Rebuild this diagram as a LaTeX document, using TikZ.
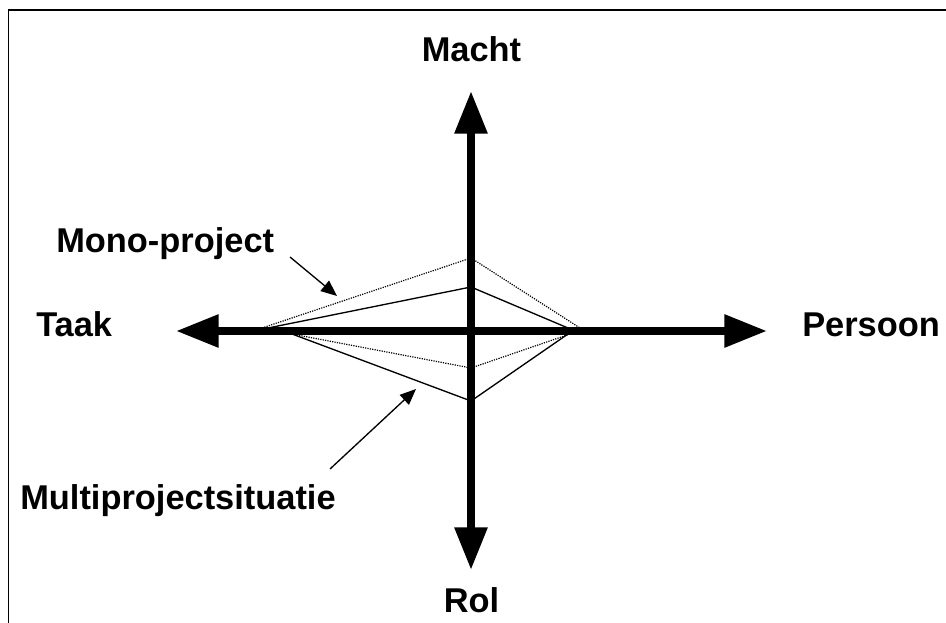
\documentclass[tikz,border=0pt]{standalone}
\usepackage{fontspec}
\setmainfont{Liberation Sans}
\usetikzlibrary{arrows.meta}
\begin{document}
\begin{tikzpicture}[x=0.75pt,y=-0.75pt,
  lbl/.style={inner sep=0pt,font=\fontsize{25.8}{30}\selectfont\bfseries},
  axis/.style={line width=6pt,-{Triangle[length=32pt,width=23.5pt]}},
  pointer/.style={line width=1pt,-{Triangle[length=12pt,width=10pt]}},
  mono/.style={line width=0.9pt,dash pattern=on 0.9pt off 0.9pt},
  multi/.style={line width=1pt}]
\useasboundingbox (0,0) rectangle (946,623);

% open frame
\draw[line width=1.2pt] (8.5,630) -- (8.5,10) -- (950,10);

% axis points
\coordinate (O)   at (471,331);
\coordinate (axL) at (176,331);
\coordinate (axR) at (767,331);
\coordinate (axT) at (471,91);
\coordinate (axB) at (471,570);

% mono-project outline (dotted)
\coordinate (dL)  at (262,328);
\coordinate (dT)  at (471,258);
\coordinate (dR)  at (580,328);
\coordinate (dBr) at (570,334);
\coordinate (dB)  at (471,368);
\coordinate (dBl) at (292,334);
\draw[mono] (dL) -- (dT) -- (dR);
\draw[mono] (dBl) -- (dB) -- (dBr);

% multiproject outline (solid)
\coordinate (sL)  at (268,328);
\coordinate (sT)  at (471,287);
\coordinate (sR)  at (568,328);
\coordinate (sBr) at (568,334);
\coordinate (sB)  at (471,401);
\coordinate (sBl) at (292,334);
\draw[multi] (sL) -- (sT) -- (sR);
\draw[multi] (sBl) -- (sB) -- (sBr);

% axes
\draw[axis] (O) -- (axT);
\draw[axis] (O) -- (axB);
\draw[axis] (O) -- (axL);
\draw[axis] (O) -- (axR);

% axis labels
\node[lbl,anchor=base] (macht) at (471.5,62) {Macht};
\node[lbl,anchor=base] (rol) at (471.5,612) {Rol};
\node[lbl,anchor=base west] (taak) at (36,337) {Taak};
\node[lbl,anchor=base west] (persoon) at (802,337) {Persoon};

% situation labels with pointers
\node[lbl,anchor=base west] (monolbl) at (56,253) {Mono-project};
\node[lbl,anchor=base west] (multilbl) at (20,509) {Multiprojectsituatie};
\coordinate (monoS) at (290,257);
\coordinate (monoE) at (337,296);
\coordinate (multiS) at (330,469);
\coordinate (multiE) at (416,389);
\draw[pointer] (monoS) -- (monoE);
\draw[pointer] (multiS) -- (multiE);
\end{tikzpicture}
\end{document}
